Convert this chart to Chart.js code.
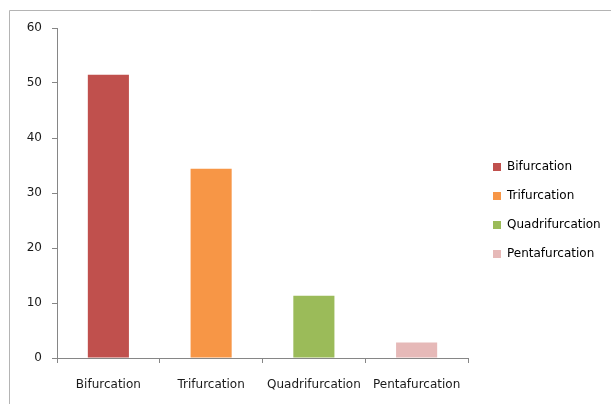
<!DOCTYPE html>
<html lang="en">
<head>
    <meta charset="UTF-8">
    <title>Furcation</title>
    <script src="https://cdn.jsdelivr.net/npm/chart.js"></script>
    <style>
        html, body {
            margin: 0;
            padding: 0;
            background: #ffffff;
        }

        #wrap {
            width: 611px;
            height: 404px;
        }
    </style>
</head>
<body>
    <div id="wrap"><canvas id="grafico"></canvas></div>

    <script>
        const categories = ['Bifurcation', 'Trifurcation', 'Quadrifurcation', 'Pentafurcation'];
        const values = [51.5, 34.4, 11.3, 2.8];
        const barColors = ['#C0504D', '#F79646', '#9BBB59', '#E6B9B8'];
        const yMin = 0, yMax = 60, yStep = 10;

        const FONT = { family: 'DejaVu Sans', size: 12 };
        const TEXT = '#1a1a1a';
        const AXIS = '#868686';

        // white background and the thin frame around the chart
        const frame = {
            id: 'frame',
            beforeDraw(chart) {
                const c = chart.ctx;
                c.save();
                c.fillStyle = '#ffffff';
                c.fillRect(0, 0, chart.width, chart.height);
                c.strokeStyle = '#b4b4b4';
                c.lineWidth = 1;
                c.beginPath();
                c.moveTo(9.5, chart.height);
                c.lineTo(9.5, 10.5);
                c.lineTo(chart.width, 10.5);
                c.stroke();
                c.restore();
            }
        };

        // fixed legend column on the right
        const legendBox = {
            id: 'legendBox',
            beforeInit(chart) {
                const lg = chart.legend;
                const fit = lg.fit.bind(lg);
                lg.fit = function () {
                    fit();
                    this.width = 143;
                };
            },
            afterLayout(chart) {
                const lg = chart.legend;
                lg.left = 476;
                lg.right = 611;
                lg.top = 144;
                lg.bottom = 404;
            }
        };

        const ctx = document.getElementById('grafico').getContext('2d');

        new Chart(ctx, {
            type: 'bar',
            data: {
                labels: categories,
                datasets: [{
                    label: 'Furcation',
                    data: values,
                    backgroundColor: barColors,
                    borderWidth: 0,
                    categoryPercentage: 1,
                    barPercentage: 0.4
                }]
            },
            options: {
                responsive: true,
                maintainAspectRatio: false,
                animation: false,
                devicePixelRatio: 1,
                layout: { padding: { top: 28, left: 0, right: 0, bottom: 0 } },
                scales: {
                    x: {
                        offset: true,
                        grid: { display: true, drawOnChartArea: false, offset: true, tickLength: 5, color: AXIS },
                        border: { color: AXIS },
                        ticks: { font: FONT, color: TEXT, padding: 15, maxRotation: 0, autoSkip: false },
                        afterFit(s) { s.height = 46; }
                    },
                    y: {
                        min: yMin,
                        max: yMax,
                        grid: { drawOnChartArea: false, tickLength: 5, color: AXIS },
                        border: { color: AXIS },
                        ticks: { stepSize: yStep, font: FONT, color: TEXT, padding: 10 },
                        afterFit(s) { s.width = 57; }
                    }
                },
                plugins: {
                    tooltip: { enabled: false },
                    legend: {
                        position: 'right',
                        align: 'start',
                        labels: {
                            font: FONT,
                            color: TEXT,
                            boxWidth: 8,
                            boxHeight: 8,
                            padding: 17,
                            generateLabels(chart) {
                                return categories.map((name, i) => ({
                                    text: name,
                                    fillStyle: barColors[i],
                                    strokeStyle: barColors[i],
                                    lineWidth: 0,
                                    hidden: false,
                                    index: i
                                }));
                            }
                        }
                    }
                }
            },
            plugins: [frame, legendBox]
        });
    </script>
</body>
</html>
